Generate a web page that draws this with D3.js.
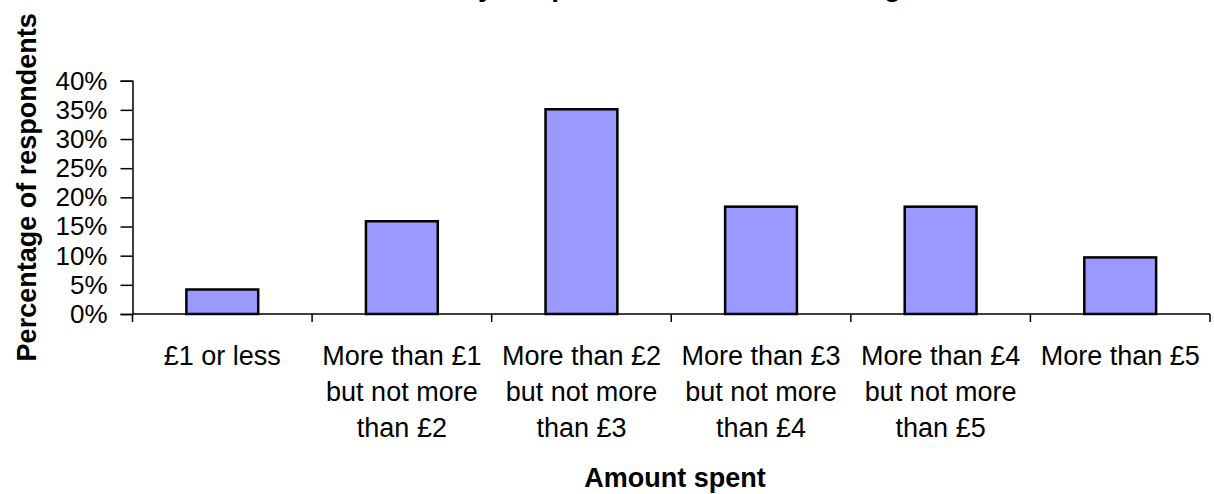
<!DOCTYPE html>
<html>
<head>
<meta charset="utf-8">
<script src="https://cdn.jsdelivr.net/npm/d3@7"></script>
<style>
  html, body { margin: 0; padding: 0; background: #fff; }
  svg { display: block; font-family: "Liberation Sans", Arial, sans-serif; }
</style>
</head>
<body>
<svg id="chart" width="1214" height="494"></svg>
<script>
// ---- data ----
const chartTitle = "Money to spend on the school outing";
const categories = [
  ["£1 or less"],
  ["More than £1", "but not more", "than £2"],
  ["More than £2", "but not more", "than £3"],
  ["More than £3", "but not more", "than £4"],
  ["More than £4", "but not more", "than £5"],
  ["More than £5"]
];
const values = [0.042, 0.159, 0.351, 0.184, 0.184, 0.097];
const yTicks = [0, 0.05, 0.10, 0.15, 0.20, 0.25, 0.30, 0.35, 0.40];
const xTitle = "Amount spent";
const yTitle = "Percentage of respondents";

// ---- layout ----
const svg = d3.select("#chart");
const plotL = 132.5, plotR = 1210, plotT = 80.7, plotB = 314;
const keys = categories.map((c, i) => i);

const x = d3.scaleBand().domain(keys).range([plotL, plotR])
  .paddingInner(0.6).paddingOuter(0.3);
const y = d3.scaleLinear().domain([0, 0.4]).range([plotB, plotT]);

// title (mostly above the visible area, as in the reference)
svg.append("text")
  .attr("x", 405).attr("y", -4)
  .attr("font-size", 28).attr("font-weight", "bold")
  .text(chartTitle);

// bars
svg.append("g").selectAll("rect").data(values).join("rect")
  .attr("x", (d, i) => x(i))
  .attr("y", d => y(d))
  .attr("width", x.bandwidth())
  .attr("height", d => y(0) - y(d))
  .attr("fill", "#9999ff")
  .attr("stroke", "#000")
  .attr("stroke-width", 2.5);

// y axis
const yAxis = svg.append("g")
  .attr("transform", `translate(${plotL},0)`)
  .call(d3.axisLeft(y).tickValues(yTicks).tickFormat(d3.format(".0%"))
    .tickSize(12).tickPadding(13));
yAxis.select(".domain").attr("stroke", "#000").attr("stroke-width", 1.5);
yAxis.selectAll(".tick line").attr("stroke", "#000").attr("stroke-width", 1.5);
yAxis.selectAll(".tick text")
  .attr("font-size", 26).attr("fill", "#000")
  .attr("font-family", "Liberation Sans, Arial, sans-serif");

// x axis line + ticks at category boundaries
const step = x.step();
const bounds = keys.map(k => x(k) - step * x.paddingOuter()).concat([plotR]);
const xAxisG = svg.append("g");
xAxisG.append("line")
  .attr("x1", plotL).attr("x2", plotR)
  .attr("y1", y(0)).attr("y2", y(0))
  .attr("stroke", "#000").attr("stroke-width", 1.5);
xAxisG.selectAll("line.tk").data(bounds).join("line")
  .attr("class", "tk")
  .attr("x1", d => d).attr("x2", d => d)
  .attr("y1", y(0)).attr("y2", y(0) + 8)
  .attr("stroke", "#000").attr("stroke-width", 1.5);

// x category labels
const lbl = svg.append("g").selectAll("text").data(categories).join("text")
  .attr("text-anchor", "middle")
  .attr("font-size", 27)
  .attr("fill", "#000");
lbl.each(function(lines, i) {
  const t = d3.select(this);
  lines.forEach((ln, j) => {
    t.append("tspan")
      .attr("x", x(i) + x.bandwidth() / 2)
      .attr("y", 365 + j * 36)
      .text(ln);
  });
});

// axis titles
svg.append("text")
  .attr("x", 675).attr("y", 487)
  .attr("text-anchor", "middle")
  .attr("font-size", 27).attr("font-weight", "bold")
  .text(xTitle);

svg.append("text")
  .attr("transform", `translate(36,${(plotT + plotB) / 2 - 10}) rotate(-90)`)
  .attr("text-anchor", "middle")
  .attr("font-size", 27).attr("font-weight", "bold")
  .text(yTitle);
</script>
</body>
</html>
